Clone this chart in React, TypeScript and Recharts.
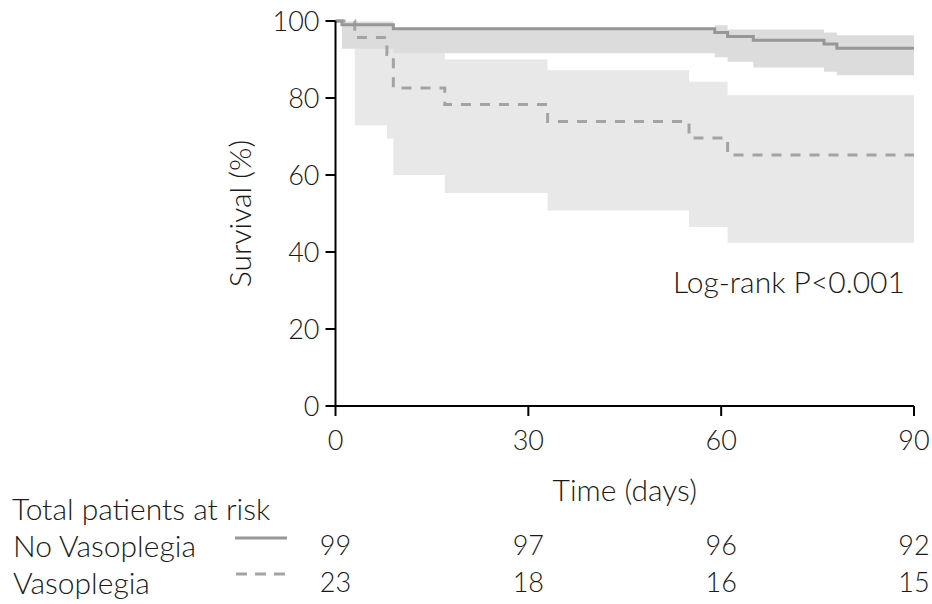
import React from "react";
import { ComposedChart, Area, Line, XAxis, YAxis } from "recharts";

const FONT = "Lato, 'Open Sans', sans-serif";
const TEXT = "#1a1a1a";

// No vasoplegia: step times (days), survival % and 95% CI
const noVasoTimes = [0, 1, 9, 59, 61, 65, 76, 78, 90];
const noVasoSurvival = [100, 99.0, 98.0, 97.0, 96.0, 95.0, 94.0, 92.9, 92.9];
const noVasoUpper = [100, 99.9, 98.0, 98.9, 97.8, 97.8, 97.0, 96.3, 96.3];
const noVasoLower = [100, 92.8, 91.6, 90.6, 89.4, 87.9, 86.8, 85.9, 85.9];

// Vasoplegia
const vasoTimes = [0, 3, 8, 9, 17, 33, 55, 61, 90];
const vasoSurvival = [100, 95.7, 91.3, 82.6, 78.3, 73.9, 69.6, 65.2, 65.2];
const vasoUpper = [100, 99.5, 99.5, 92.8, 90.0, 87.2, 84.2, 80.7, 80.7];
const vasoLower = [100, 72.9, 69.5, 60.0, 55.3, 50.8, 46.5, 42.4, 42.4];

const xTicks = [0, 30, 60, 90];
const yTicks = [0, 20, 40, 60, 80, 100];
const atRiskNoVaso = [99, 97, 96, 92];
const atRiskVaso = [23, 18, 16, 15];

const noVasoLine = noVasoTimes.map((t, i) => ({ t, s: noVasoSurvival[i] }));
const noVasoBand = noVasoTimes.map((t, i) => ({ t, ci: [noVasoLower[i], noVasoUpper[i]] }));
const vasoLine = vasoTimes.map((t, i) => ({ t, s: vasoSurvival[i] }));
const vasoBand = vasoTimes.map((t, i) => ({ t, ci: [vasoLower[i], vasoUpper[i]] }));

// numbers are set a bit smaller than words (calibri digits are narrow)
const numStyle = { fontFamily: FONT, fontWeight: 300, fontSize: 27, fill: TEXT };
const wordStyle = { fontFamily: FONT, fontWeight: 300, fontSize: 30, fill: TEXT };

// x tick: the day label plus the at-risk counts under it
const TimeTick = (props: any) => {
  const { x, y, payload } = props;
  const i = xTicks.indexOf(payload.value);
  return (
    <g>
      <text x={x} y={y + 30} textAnchor="middle" style={numStyle}>
        {payload.value}
      </text>
      <text x={x} y={y + 135} textAnchor="middle" style={numStyle}>
        {atRiskNoVaso[i]}
      </text>
      <text x={x} y={y + 172} textAnchor="middle" style={numStyle}>
        {atRiskVaso[i]}
      </text>
    </g>
  );
};

const SurvivalLabel = (props: any) => {
  const vb = props.viewBox || {};
  const cx = vb.x + vb.width - 97;
  const cy = vb.y + vb.height / 2;
  return (
    <text
      x={cx}
      y={cy}
      transform={`rotate(-90, ${cx}, ${cy})`}
      textAnchor="middle"
      dominantBaseline="central"
      style={wordStyle}
    >
      Survival (%)
    </text>
  );
};

const TimeLabel = (props: any) => {
  const vb = props.viewBox || {};
  return (
    <text x={vb.x + vb.width / 2} y={vb.y + 95} textAnchor="middle" style={wordStyle}>
      Time (days)
    </text>
  );
};

export default function App() {
  return (
    <div style={{ position: "absolute", left: 0, top: 0, width: 932, height: 604, background: "#fff" }}>
      <ComposedChart width={932} height={604} margin={{ top: 21, right: 18, left: 0, bottom: 0 }}>
        <XAxis
          dataKey="t"
          type="number"
          domain={[0, 90]}
          ticks={xTicks}
          height={198}
          tickSize={10}
          tickMargin={4}
          stroke="#000"
          strokeWidth={2}
          tick={<TimeTick />}
          label={<TimeLabel />}
        />
        <YAxis
          type="number"
          domain={[0, 100]}
          ticks={yTicks}
          width={335.5}
          tickSize={10}
          tickMargin={6}
          stroke="#000"
          strokeWidth={2}
          tick={{ ...numStyle, fill: TEXT }}
          label={<SurvivalLabel />}
        />
        <Area
          data={vasoBand}
          dataKey="ci"
          type="stepAfter"
          fill="#e8e8e8"
          fillOpacity={1}
          stroke="none"
          isAnimationActive={false}
        />
        <Area
          data={noVasoBand}
          dataKey="ci"
          type="stepAfter"
          fill="#dcdcdc"
          fillOpacity={1}
          stroke="none"
          isAnimationActive={false}
        />
        <Line
          data={vasoLine}
          dataKey="s"
          type="stepAfter"
          stroke="#a3a3a3"
          strokeWidth={3}
          strokeDasharray="10 9"
          dot={false}
          isAnimationActive={false}
        />
        <Line
          data={noVasoLine}
          dataKey="s"
          type="stepAfter"
          stroke="#979797"
          strokeWidth={3}
          dot={false}
          isAnimationActive={false}
        />
      </ComposedChart>
      <svg
        width={932}
        height={604}
        style={{ position: "absolute", left: 0, top: 0, pointerEvents: "none" }}
      >
        <text x={673} y={293} style={wordStyle}>
          Log-rank P&lt;0.001
        </text>
        <text x={12} y={520} style={wordStyle}>
          Total patients at risk
        </text>
        <text x={13} y={557} style={wordStyle}>
          No Vasoplegia
        </text>
        <text x={13} y={594} style={wordStyle}>
          Vasoplegia
        </text>
        <line x1={235} y1={538} x2={287} y2={538} stroke="#979797" strokeWidth={3} />
        <line x1={236} y1={574} x2={287} y2={574} stroke="#a3a3a3" strokeWidth={3} strokeDasharray="11 8" />
      </svg>
    </div>
  );
}
